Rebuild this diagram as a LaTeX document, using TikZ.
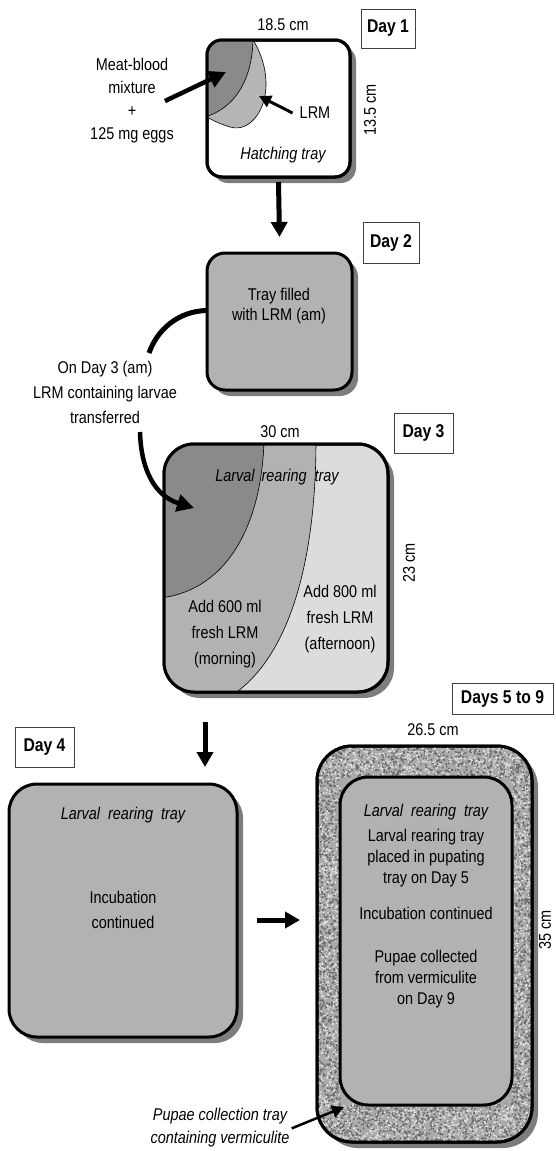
\documentclass[tikz,border=0pt]{standalone}
\usepackage{fontspec}
\setmainfont[FakeStretch=0.85]{Liberation Sans}
\usetikzlibrary{arrows.meta,shadows}
\definecolor{trayGray}{RGB}{178,178,178}
\definecolor{darkMix}{RGB}{138,138,138}
\definecolor{lightMix}{RGB}{181,181,181}
\definecolor{freshGray}{RGB}{220,220,220}
\definecolor{shadowGray}{RGB}{125,125,125}
\definecolor{vermBase}{RGB}{170,170,170}
\definecolor{vermDark}{RGB}{105,105,105}
\definecolor{vermLight}{RGB}{228,228,228}
\begin{document}
\begin{tikzpicture}
[x=1pt,y=-1pt,
  trayDecorate/.style={draw,line width=3pt,rounded corners=#1,inner sep=0pt,outer sep=0pt,
    drop shadow={shadow xshift=6pt,shadow yshift=-6pt,fill=shadowGray,opacity=1}},
  dayDecorate/.style={draw=black!75,line width=0.9pt,fill=white,inner sep=0pt,
    font=\fontsize{18.5}{20}\selectfont\bfseries},
  textDecorate/.style={font=\fontsize{17}{#1}\selectfont,align=center,inner sep=0pt},
  italDecorate/.style={font=\fontsize{17}{#1}\selectfont\itshape,align=center,inner sep=0pt},
  lineDecorate/.style={line width=0.6pt},
  arrowDecorate/.style={line width=5pt,-{Triangle[length=15pt,width=16pt]}},
  bigArrow/.style={line width=4.5pt,-{Triangle[length=17pt,width=17pt]}},
  smallArrow/.style={line width=3pt,-{Triangle[length=12pt,width=12pt]}}]
\useasboundingbox (0,0) rectangle (555,1151);
%% day labels
\foreach \nodename/\x/\y/\w/\h/\txt in {
  dayOne/388/28.5/54/39/Day 1, dayTwo/391/242.5/56/41/Day 2,
  dayThree/423.5/433/59/40/Day 3, dayFour/44.5/747/59/40/Day 4,
  dayFive/502.5/698.5/101/31/Days 5 to 9}
{
  \node (\nodename) at (\x,\y) [dayDecorate,minimum width=\w,minimum height=\h] {\txt};
}
%% trays
\node (hatch) at (278.5,108.5) [trayDecorate=15,fill=white,minimum width=143,minimum height=137] {};
\node (tray2) at (279.5,321.5) [trayDecorate=18,fill=trayGray,minimum width=145,minimum height=137] {};
\node (tray3) at (276,568) [trayDecorate=30,fill=freshGray,minimum width=224,minimum height=248] {};
\node (tray4) at (123,910.5) [trayDecorate=28,fill=trayGray,minimum width=228,minimum height=253] {};
\node (outer) at (424.5,944) [trayDecorate=35,fill=vermBase,minimum width=215,minimum height=396] {};
%% mixture in the hatching tray
\begin{scope}
  \clip[rounded corners=15] (hatch.south west) rectangle (hatch.north east);
  \fill[lightMix,draw=black,lineDecorate] (253,30) -- (253,40) .. controls (266,60) and (272,92) .. (258,114)
    .. controls (250,126) and (240,130) .. (230,127) .. controls (220,124) and (212,120) .. (205,116)
    -- (195,116) -- (195,30) -- cycle;
  \fill[darkMix,draw=black,lineDecorate] (253,30) -- (253,40) .. controls (252,80) and (235,108) .. (205,117)
    -- (195,117) -- (195,30) -- cycle;
\end{scope}
\draw[line width=3pt,rounded corners=15] (hatch.south west) rectangle (hatch.north east);
%% LRM in the larval rearing tray
\begin{scope}
  \clip[rounded corners=30] (tray3.south west) rectangle (tray3.north east);
  \fill[trayGray,draw=black,lineDecorate] (316,435) -- (316,440) .. controls (316,560) and (290,660) .. (228,698)
    -- (155,698) -- (155,435) -- cycle;
  \fill[darkMix,draw=black,lineDecorate] (264,435) -- (264,440) .. controls (262,520) and (230,590) .. (160,598)
    -- (155,598) -- (155,435) -- cycle;
\end{scope}
\draw[line width=3pt,rounded corners=30] (tray3.south west) rectangle (tray3.north east);
%% vermiculite
\pgfmathsetseed{11}
\begin{scope}
  \clip[rounded corners=35] (outer.south west) rectangle (outer.north east);
  \foreach \sx/\sy/\sw/\sh/\n in {317/744/215/34/650, 317/1104/215/40/760,
    315/777/26/328/760, 511/777/23/328/660}
  {
    \foreach \k in {1,...,\n}
    {
      \pgfmathsetmacro{\vx}{\sx+\sw*rnd}
      \pgfmathsetmacro{\vy}{\sy+\sh*rnd}
      \fill[vermDark] (\vx,\vy) circle (1.1);
      \pgfmathsetmacro{\vx}{\sx+\sw*rnd}
      \pgfmathsetmacro{\vy}{\sy+\sh*rnd}
      \fill[vermLight] (\vx,\vy) circle (1.0);
    }
  }
\end{scope}
\draw[line width=3pt,rounded corners=35] (outer.south west) rectangle (outer.north east);
\node (inner) at (426,941) [draw,line width=3pt,rounded corners=28,inner sep=0pt,outer sep=0pt,
  fill=trayGray,minimum width=172,minimum height=328] {};
%% texts
\node (hatchWidth) at (283,25) [textDecorate=20] {18.5 cm};
\node (hatchDepth) at (370,110) [textDecorate=20,rotate=90] {13.5 cm};
\node (meatText) at (132,101) [textDecorate=23] {Meat-blood\\mixture\\+\\125 mg eggs};
\node (lrmText) at (315,113) [textDecorate=20] {LRM};
\node (hatchText) at (283,155) [italDecorate=20] {Hatching tray};
\node (fillText) at (279,306) [textDecorate=20] {Tray filled\\with LRM (am)};
\node (transferText) at (105,392) [textDecorate=25] {On Day 3 (am)\\LRM containing larvae\\transferred};
\node (rearWidth) at (280,432) [textDecorate=20] {30 cm};
\node (rearDepth) at (409,563) [textDecorate=20,rotate=90] {23 cm};
\node (rearText) at (277,477) [italDecorate=20] {Larval\hspace{3pt} rearing\hspace{4pt} tray};
\node (morningText) at (225,634) [textDecorate=26] {Add 600 ml\\fresh LRM\\(morning)};
\node (noonText) at (340,619) [textDecorate=26] {Add 800 ml\\fresh LRM\\(afternoon)};
\node (fourTitle) at (123,815) [italDecorate=20] {Larval~ rearing~ tray};
\node (fourText) at (123,910) [textDecorate=25] {Incubation\\continued};
\node (pupWidth) at (433,730) [textDecorate=20] {26.5 cm};
\node (pupDepth) at (545,930) [textDecorate=20,rotate=90] {35 cm};
\node (innerTitle) at (426,812) [italDecorate=20] {Larval~ rearing~ tray};
\node (placedText) at (426,858) [textDecorate=21] {Larval rearing tray\\placed in pupating\\tray on Day 5};
\node (incubText) at (426,913) [textDecorate=21] {Incubation continued};
\node (collectText) at (426,979) [textDecorate=21] {Pupae collected\\from vermiculite\\on Day 9};
\node (vermText) at (220,1128) [italDecorate=23] {Pupae collection tray\\containing vermiculite};
%% free ends
\coordinate (meatTip) at (226,72);
\coordinate (lrmTip) at (259,96);
\coordinate (bendEnd) at (149,353);
\coordinate (bendStart) at (140,432);
\coordinate (transferTip) at (194,508);
\coordinate (fourFrom) at (205,722);
\coordinate (fourTo) at (205,767);
\coordinate (vermTip) at (344,1107);
%% connectors
\draw[bigArrow] ([xshift=-9]meatText.east) -- (meatTip);
\draw[smallArrow] ([xshift=-7]lrmText.west) -- (lrmTip);
\draw[arrowDecorate] ([yshift=-5]hatch.south) -- ([yshift=16]tray2.north);
\draw[line width=5pt] ([yshift=11]tray2.west) .. controls (178,311) and (157,330) .. (bendEnd);
\draw[bigArrow] (bendStart) .. controls (141,470) and (155,496) .. (transferTip);
\draw[arrowDecorate] (fourFrom) -- (fourTo);
\draw[arrowDecorate] ([shift={(20,9.5)}]tray4.east) -- ([shift={(-17,-24)}]outer.west);
\draw[line width=2.5pt,-{Triangle[length=12pt,width=12pt]}] ([shift={(2,20)}]vermText.north east) -- (vermTip);
\end{tikzpicture}
\end{document}
